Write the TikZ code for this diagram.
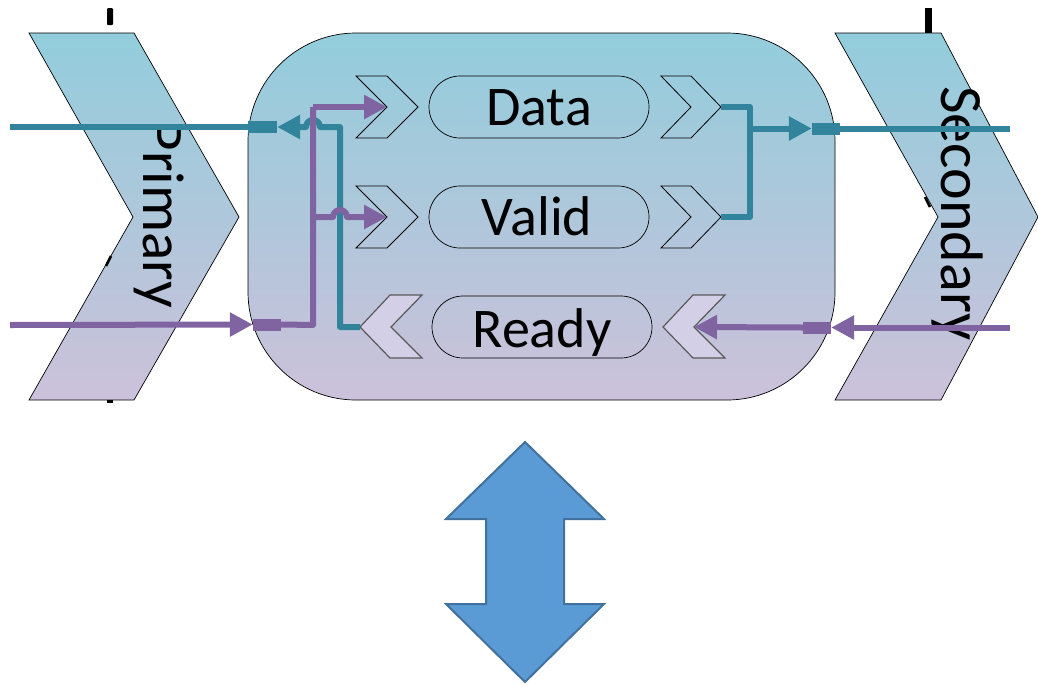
\documentclass[tikz,border=0pt]{standalone}
\usepackage{fontspec}
\setmainfont{Carlito}
\usetikzlibrary{arrows.meta}
\definecolor{cteal}{RGB}{49,132,155}
\definecolor{cpurp}{RGB}{128,100,162}
\definecolor{gtop}{RGB}{146,205,220}
\definecolor{gbot}{RGB}{204,193,218}
\definecolor{rdyfill}{RGB}{211,207,230}
\definecolor{bluefill}{RGB}{91,155,213}
\definecolor{bluedraw}{RGB}{65,113,156}
\tikzset{
  grad/.style={top color=gtop, bottom color=gbot, draw=black, line width=0.7pt},
  pill/.style={draw=black, line width=0.7pt, rounded corners=31pt},
  chevin/.style={draw=black, line width=0.8pt},
  chevrdy/.style={draw=black!65, line width=1.2pt, fill=rdyfill, line join=miter},
  tline/.style={draw=cteal, line width=6pt, line join=round},
  pline/.style={draw=cpurp, line width=6pt, line join=round},
  tip/.style={-{Triangle[length=23pt,width=23pt]}},
  tport/.style={fill=cteal, inner sep=0pt, minimum width=29pt, minimum height=12pt},
  pport/.style={fill=cpurp, inner sep=0pt, minimum width=28pt, minimum height=12pt},
  lbl/.style={font=\fontsize{56}{60}\selectfont, anchor=base, inner sep=0pt},
  side/.style={font=\fontsize{59}{62}\selectfont, anchor=base, rotate=-90, inner sep=0pt},
  tick/.style={fill=black}
}
\begin{document}
\begin{tikzpicture}[x=1pt,y=-1pt]
\useasboundingbox (0,0) rectangle (1038,686);
% side chevrons
\path[grad] (29,33) -- (134,33) -- (239,217) -- (134,400) -- (29,400) -- (133,217) -- cycle;
\path[grad] (835,33) -- (941,33) -- (1038,217) -- (941,400) -- (835,400) -- (938,217) -- cycle;
% small black marks
\fill[tick, rounded corners=1pt] (107,8) rectangle (113,25);
\fill[tick] (925,8) rectangle (932,33);
\draw[line width=2.5pt] (106,266) -- (111,256);
\draw[line width=2.5pt] (925,197) -- (930,207);
\fill[tick] (107,400) rectangle (113,403);
% main box
\path[grad, rounded corners=108pt] (248,33) rectangle (835,400);
% pills
\draw[pill] (429,76) rectangle (649,138);
\draw[pill] (429,186) rectangle (649,248);
\draw[pill] (432,296) rectangle (652,358);
\node[lbl] (data) at (539,125) {Data};
\node[lbl] (valid) at (537,235) {Valid};
\node[lbl] (ready) at (542,347) {Ready};
% input chevrons
\draw[chevin] (356,76) -- (387,76) -- (418,107) -- (387,138) -- (356,138) -- (387,107) -- cycle;
\coordinate (dinN) at (387,107);
\draw[chevin] (356,186) -- (387,186) -- (418,217) -- (387,248) -- (356,248) -- (387,217) -- cycle;
\coordinate (vinN) at (387,217);
% output chevrons
\draw[chevin] (661,76) -- (691,76) -- (721,107) -- (691,138) -- (661,138) -- (691,107) -- cycle;
\coordinate (doutT) at (721,107);
\draw[chevin] (661,186) -- (691,186) -- (721,217) -- (691,248) -- (661,248) -- (691,217) -- cycle;
\coordinate (voutT) at (721,217);
% ready chevrons
\draw[chevrdy] (360,327) -- (390,295) -- (422,295) -- (391,327) -- (422,358) -- (390,358) -- cycle;
\coordinate (rLT) at (360,327);
\draw[chevrdy] (663,327) -- (693,295) -- (725,295) -- (694,327) -- (725,358) -- (693,358) -- cycle;
\coordinate (rRN) at (694,327);
% side labels
\node[side] (prim) at (143,214.5) {Primary};
\node[side, font=\fontsize{60}{62}\selectfont] (sec) at (941,213.5) {Secondary};
% ports
\node[tport] (ptl) at (262.5,127) {};
\node[pport] (ppl) at (267,324.5) {};
\node[tport, minimum width=28pt] (ptr) at (826,128.5) {};
\node[pport] (ppr) at (817,327.5) {};
\coordinate (tlin) at (10,127);
\coordinate (plin) at (10,325);
\coordinate (trout) at (1010,128.5);
\coordinate (prin) at (1010,327.5);
% left teal
\draw[tline] (tlin) -- (ptl.west);
\draw[tline, tip] (rLT) -- (340,327) -- (340,127) -- (320,127) arc (0:-180:7) -- (ptl.east);
% left purple
\draw[pline, tip] (plin) -- (ppl.west);
\draw[pline] (ppl.east) -- (313,325) -- (313,107);
\draw[pline, tip] (313,107) -- (dinN);
\draw[pline, tip] (313,217) -- (333,217) arc (180:360:7) -- (vinN);
% right teal
\draw[tline] (doutT) -- (750,107) -- (750,217) -- (voutT);
\draw[tline, tip] (750,128.5) -- (ptr.west);
\draw[tline] (ptr.east) -- (trout);
% right purple
\draw[pline, tip] (prin) -- (ppr.east);
\draw[pline, tip] (ppr.west) -- (rRN);
% bottom double arrow
\draw[fill=bluefill, draw=bluedraw, line width=2pt, line join=miter]
  (525,442) -- (604,519) -- (564,519) -- (564,604) -- (604,604) -- (525,682)
  -- (446,604) -- (486,604) -- (486,519) -- (446,519) -- cycle;
\end{tikzpicture}
\end{document}
